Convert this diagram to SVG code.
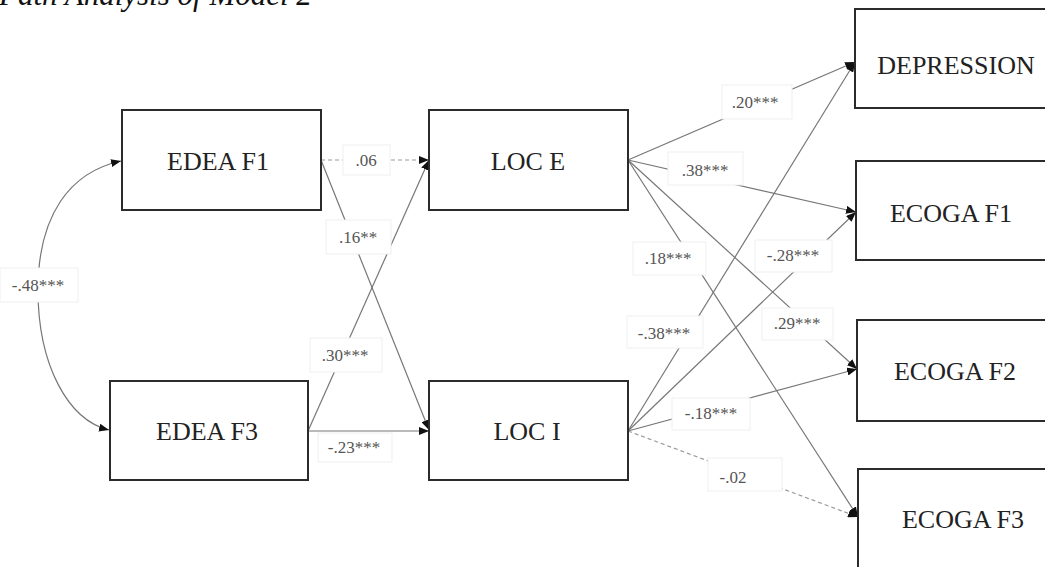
<svg xmlns="http://www.w3.org/2000/svg" width="1045" height="567" viewBox="0 0 1045 567">
<style>
.box{fill:#fff;stroke:#2b2b2b;stroke-width:2}
.bt{font-family:"Liberation Serif","Times New Roman",serif;font-size:26px;fill:#222;text-anchor:middle}
.ln{fill:none;stroke:#777;stroke-width:1.2;marker-end:url(#ah)}
.dl{fill:none;stroke:#999;stroke-width:1.2;stroke-dasharray:4 3;marker-end:url(#ah)}
.lb{fill:#fff;stroke:#efefef;stroke-width:1}
.lt{font-family:"Liberation Serif","Times New Roman",serif;font-size:17px;fill:#555;text-anchor:middle}
.title{font-family:"Liberation Serif","Times New Roman",serif;font-size:31px;font-style:italic;fill:#111}
</style>
<defs>
<marker id="ah" viewBox="0 0 10 8" markerWidth="10" markerHeight="8" refX="10" refY="4" markerUnits="userSpaceOnUse" orient="auto-start-reverse">
<path d="M0,0 L10,4 L0,8 z" fill="#111"/>
</marker>
</defs>
<rect width="1045" height="567" fill="#fff"/>
<text class="title" x="-1" y="5">Path Analysis of Model 2</text>

<g id="connectors">
<path class="dl" d="M321,160 L429,160"/>
<path class="ln" d="M321,160 L429,430"/>
<path class="ln" d="M308,431 L429,160"/>
<path class="ln" d="M308,431 L429,431"/>
<path class="ln" style="marker-start:url(#ah)" d="M121,161 C70,172 38,215 38,290 C38,365 68,420 109,430"/>
<path class="ln" d="M628,160 L855,62"/>
<path class="ln" d="M628,160 L856,212"/>
<path class="ln" d="M628,160 L857,369"/>
<path class="ln" d="M628,160 L858,517"/>
<path class="ln" d="M628,431 L855,62"/>
<path class="ln" d="M628,431 L856,212"/>
<path class="ln" d="M628,431 L857,369"/>
<path class="dl" d="M628,431 L858,517"/>

<rect class="lb" x="343" y="145" width="47" height="30"/><text class="lt" x="366" y="166">.06</text>
<rect class="lb" x="326" y="220" width="65" height="34"/><text class="lt" x="358" y="243">.16**</text>
<rect class="lb" x="310" y="338" width="72" height="34"/><text class="lt" x="345" y="361">.30***</text>
<rect class="lb" x="318" y="433" width="74" height="29"/><text class="lt" x="354" y="453">-.23***</text>
<rect class="lb" x="0" y="268" width="78" height="34"/><text class="lt" x="38" y="291">-.48***</text>
<rect class="lb" x="722" y="85" width="70" height="34"/><text class="lt" x="755" y="108">.20***</text>
<rect class="lb" x="668" y="152" width="75" height="33"/><text class="lt" x="705" y="176">.38***</text>
<rect class="lb" x="633" y="242" width="73" height="33"/><text class="lt" x="668" y="264">.18***</text>
<rect class="lb" x="755" y="240" width="77" height="32"/><text class="lt" x="793" y="261">-.28***</text>
<rect class="lb" x="762" y="308" width="71" height="32"/><text class="lt" x="797" y="329">.29***</text>
<rect class="lb" x="627" y="316" width="76" height="32"/><text class="lt" x="664" y="339">-.38***</text>
<rect class="lb" x="672" y="398" width="78" height="32"/><text class="lt" x="711" y="419">-.18***</text>
<rect class="lb" x="708" y="458" width="74" height="33"/><text class="lt" x="733" y="483">-.02</text>
</g>

<g id="edea_f1"><rect class="box" x="122" y="110" width="199" height="100"/><text class="bt" x="218" y="170">EDEA F1</text></g>
<g id="edea_f3"><rect class="box" x="110" y="381" width="198" height="99"/><text class="bt" x="207" y="440">EDEA F3</text></g>
<g id="loc_e"><rect class="box" x="429" y="110" width="199" height="100"/><text class="bt" x="528" y="170">LOC E</text></g>
<g id="loc_i"><rect class="box" x="429" y="381" width="199" height="99"/><text class="bt" x="527" y="440">LOC I</text></g>
<g id="depression"><rect class="box" x="855" y="9" width="200" height="99"/><text class="bt" x="956" y="74">DEPRESSION</text></g>
<g id="ecoga_f1"><rect class="box" x="856" y="161" width="200" height="99"/><text class="bt" x="951" y="222">ECOGA F1</text></g>
<g id="ecoga_f2"><rect class="box" x="857" y="320" width="200" height="101"/><text class="bt" x="955" y="380">ECOGA F2</text></g>
<g id="ecoga_f3"><rect class="box" x="858" y="469" width="200" height="110"/><text class="bt" x="963" y="528">ECOGA F3</text></g>
</svg>
